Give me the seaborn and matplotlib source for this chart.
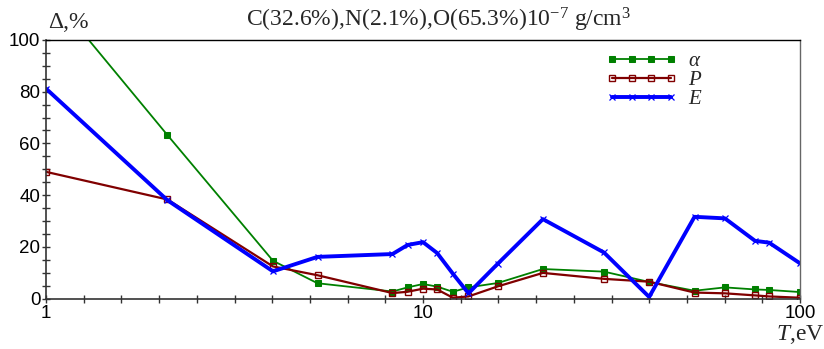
"""Relative deviation of alpha, P and E vs temperature for a C/N/O mixture."""

import matplotlib

matplotlib.use("Agg")

import matplotlib.pyplot as plt
import matplotlib.ticker as ticker
import numpy as np
import pandas as pd
import seaborn as sns

# temperature grid, eV
T_EV = [1.0, 2.1, 4.0, 5.25, 8.3, 9.1, 10.0, 10.9, 12.0, 13.2, 15.8,
        20.8, 30.2, 39.8, 52.5, 63.2, 76.0, 82.8, 100.0]

# deviations, %
ALPHA = [120.0, 63.2, 14.6, 5.9, 2.7, 4.3, 5.6, 4.6, 2.6, 4.3, 6.0,
         11.4, 10.4, 6.4, 3.0, 4.3, 3.5, 3.3, 2.5]
PRESS = [49.0, 38.3, 12.4, 9.0, 2.1, 2.6, 3.8, 3.5, 0.3, 0.8, 4.7,
         9.9, 7.6, 6.5, 2.3, 2.0, 1.2, 0.8, 0.3]
ENERGY = [81.2, 38.0, 10.5, 16.1, 17.2, 20.7, 21.8, 17.6, 9.6, 2.0, 13.5,
          30.7, 17.8, 0.6, 31.6, 31.0, 22.3, 21.6, 13.6]

SERIES = [
    (r"$\alpha$", ALPHA, "#008000", dict(marker="s", markersize=5, linewidth=1.3)),
    (r"$P$", PRESS, "#800000", dict(marker="s", markersize=5, markerfacecolor="none",
                                    markeredgewidth=1.0, linewidth=1.6)),
    (r"$E$", ENERGY, "#0000ff", dict(marker="x", markersize=5, markeredgewidth=0.9,
                                     linewidth=2.8)),
]

SERIF = ["Liberation Serif", "DejaVu Serif"]
SANS = ["Liberation Sans", "DejaVu Sans"]

sns.set_theme(style="white")
plt.rcParams["font.family"] = SANS
plt.rcParams["mathtext.fontset"] = "custom"
plt.rcParams["mathtext.rm"] = "Liberation Serif"
plt.rcParams["mathtext.it"] = "Liberation Serif:italic"


def main() -> None:
    fig = plt.figure(figsize=(8.24, 3.49), dpi=100)
    ax = fig.add_axes([46 / 824, 50.5 / 349, 754 / 824, 258.5 / 349])

    df = pd.DataFrame({"T": T_EV, "alpha": ALPHA, "P": PRESS, "E": ENERGY})
    for (label, _, color, style), col in zip(SERIES, ["alpha", "P", "E"]):
        sns.lineplot(data=df, x="T", y=col, ax=ax, color=color, label=label,
                     estimator=None, sort=False, markeredgecolor=color, **style)

    ax.set_xscale("log")
    ax.set_xlim(1, 100)
    ax.set_ylim(0, 100)

    ax.xaxis.set_major_locator(ticker.FixedLocator([1, 10, 100]))
    ax.xaxis.set_major_formatter(ticker.FixedFormatter(["1", "10", "100"]))
    minor_x = [10 ** (k / 10) for k in range(21) if k % 10]
    ax.xaxis.set_minor_locator(ticker.FixedLocator(minor_x))
    ax.xaxis.set_minor_formatter(ticker.NullFormatter())
    ax.yaxis.set_major_locator(ticker.MultipleLocator(20))
    ax.yaxis.set_minor_locator(ticker.MultipleLocator(5))

    ax.tick_params(axis="both", which="both", direction="inout", length=6, width=1,
                   color="#333333", labelsize=13.5, labelcolor="black")
    ax.tick_params(axis="x", which="major", pad=2)
    ax.tick_params(axis="y", which="major", pad=1)
    ax.tick_params(bottom=True, left=True, top=False, right=False, which="both")

    ax.set_xlabel("")
    ax.set_ylabel("")
    for side in ["left", "bottom"]:
        ax.spines[side].set_color("#333333")
        ax.spines[side].set_linewidth(1.2)
    ax.spines["top"].set_color("black")
    ax.spines["top"].set_linewidth(1.0)
    ax.spines["right"].set_color("#666666")
    ax.spines["right"].set_linewidth(1.0)

    ax.legend(loc="upper left", bbox_to_anchor=(560 / 754, 1 - 11 / 258.5),
              frameon=False, numpoints=4, handlelength=3.4, handletextpad=0.55,
              labelspacing=0.0, borderpad=0, borderaxespad=0, fontsize=15)

    fig.text(48 / 824, 1 - 22 / 349, "Δ,%", family=SERIF, fontsize=17, va="center", ha="left")
    fig.text(439 / 824, 1 - 20 / 349,
             r"C(32.6%),N(2.1%),O(65.3%)10$^{-7}$ g/cm$^{3}$",
             family=SERIF, fontsize=17, va="center", ha="center")
    fig.text(824 / 824, 1 - 334 / 349, r"$T$,eV", family=SERIF, fontsize=17,
             va="center", ha="right")

    fig.savefig("out.png", dpi=100)
    plt.close(fig)


if __name__ == "__main__":
    main()
